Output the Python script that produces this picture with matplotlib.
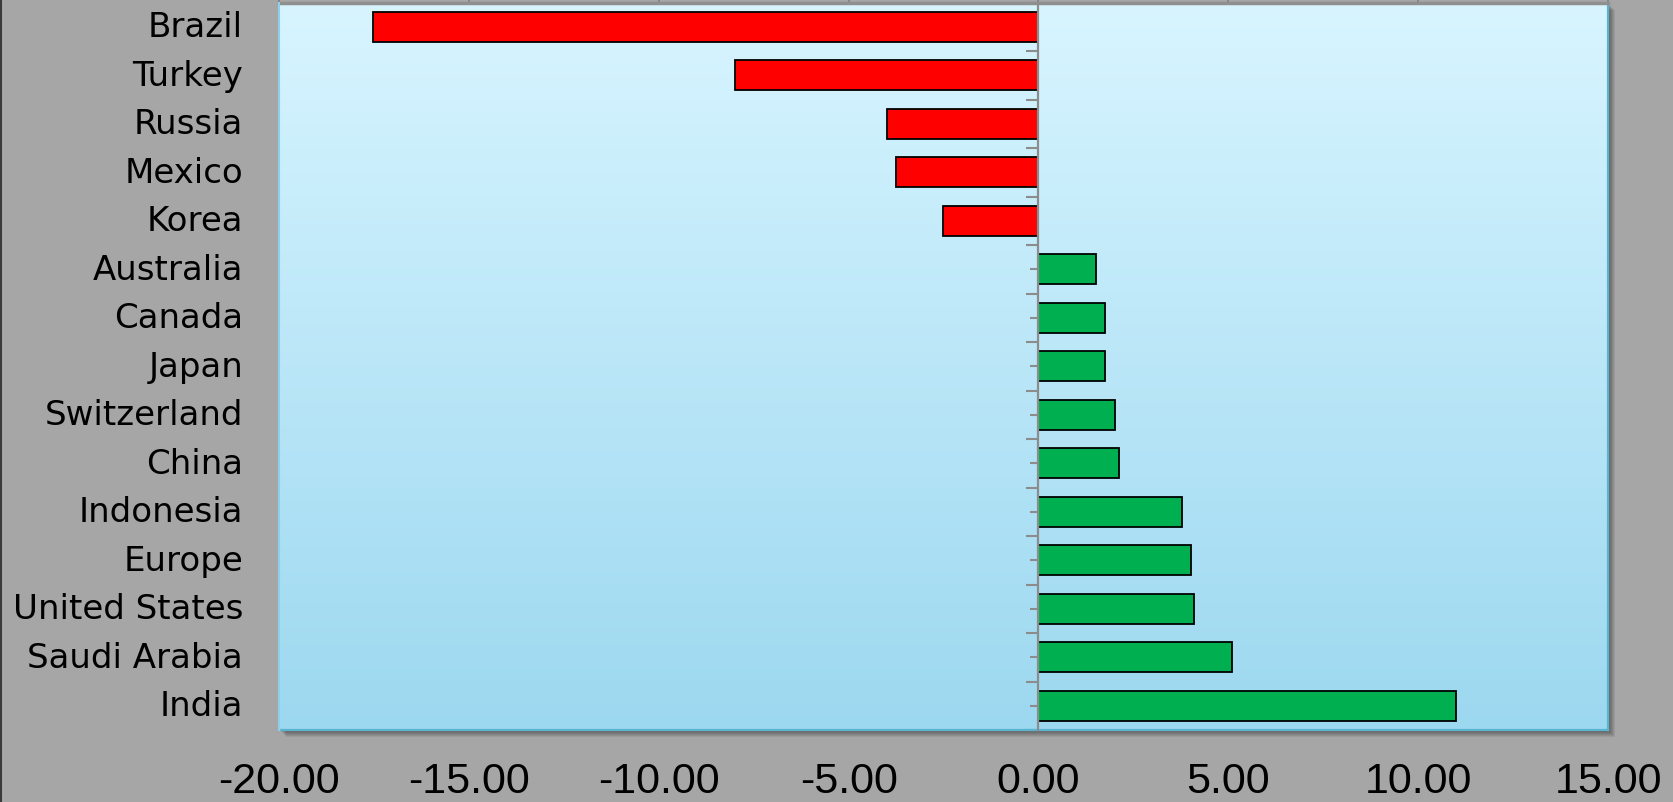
import numpy as np
import matplotlib
matplotlib.use("Agg")
import matplotlib.pyplot as plt
from matplotlib.patches import Rectangle
from matplotlib.lines import Line2D
from matplotlib.transforms import offset_copy
from matplotlib.ticker import FormatStrFormatter, FixedLocator

plt.rcParams['axes.unicode_minus'] = False

# Countries, top to bottom, and their values
countries = ['Brazil', 'Turkey', 'Russia', 'Mexico', 'Korea', 'Australia',
             'Canada', 'Japan', 'Switzerland', 'China', 'Indonesia', 'Europe',
             'United States', 'Saudi Arabia', 'India']
values = [-17.53, -8.00, -4.00, -3.76, -2.51, 1.51, 1.75, 1.75, 2.01, 2.11,
          3.77, 4.02, 4.10, 5.11, 11.01]
x_ticks = [-20, -15, -10, -5, 0, 5, 10, 15]

W, H = 1673, 803
fig = plt.figure(figsize=(W / 100, H / 100), dpi=100)
fig.patch.set_facecolor('#a6a6a6')

# plot area in pixels: left 279, right 1608, top 3.5, bottom 731
left, right, top, bottom = 279, 1608, 3.5, 731
ax = fig.add_axes([left / W, (H - bottom) / H, (right - left) / W, (bottom - top) / H])

# drop shadow to the right / bottom of the plot area
for k in range(1, 8):
    tr = offset_copy(ax.transAxes, fig=fig, x=k, y=-k, units='dots')
    fig.add_artist(Rectangle((0, 0), 1, 1, transform=tr, facecolor='black',
                             alpha=0.07, edgecolor='none', zorder=0))
ax.set_zorder(1)

# vertical gradient fill for the plot background
grad = np.linspace(0, 1, 256).reshape(-1, 1)
top_c = np.array([0.847, 0.960, 1.0])
bot_c = np.array([0.612, 0.847, 0.941])
img = top_c + (bot_c - top_c) * grad[..., None]
ax.imshow(img, extent=[0, 1, 0, 1], transform=ax.transAxes, aspect='auto',
          zorder=0, interpolation='bilinear')

y = np.arange(len(countries))
colors = ['#ff0000' if v < 0 else '#00b050' for v in values]
ax.barh(y, values, height=0.62, color=colors, edgecolor='black',
        linewidth=1.3, zorder=3)

ax.set_xlim(-20, 15)
ax.set_ylim(len(countries) - 0.5, -0.5)

# y axis drawn at zero with boundary (major) and centre (minor) ticks
ax.spines['left'].set_position(('data', 0))
ax.spines['left'].set_color('#8c8c8c')
ax.spines['left'].set_linewidth(1.6)
ax.spines['left'].set_zorder(4)
ax.yaxis.set_major_locator(FixedLocator(np.arange(-0.5, len(countries), 1.0)))
ax.yaxis.set_minor_locator(FixedLocator(y))
ax.tick_params(axis='y', which='major', direction='out', length=8.5, width=1.5,
               color='#8c8c8c', labelleft=False)
ax.tick_params(axis='y', which='minor', direction='out', length=6, width=1.5,
               color='#8c8c8c', labelleft=False)

for i, name in enumerate(countries):
    ax.text(-0.027, i, name, transform=ax.get_yaxis_transform(), ha='right',
            va='center', fontsize=24.5, family=['DejaVu Sans'], color='black')

# frame
for s in ['right', 'bottom']:
    ax.spines[s].set_color('#5bb4cf')
    ax.spines[s].set_linewidth(1.6)
ax.spines['top'].set_color('#8f8f8f')
ax.spines['top'].set_linewidth(2.5)
fig.add_artist(Line2D([left / W, left / W], [(H - bottom) / H, (H - top) / H],
                      transform=fig.transFigure, color='#8fd0e8', lw=1.5, zorder=2))

ax.set_xticks(x_ticks)
ax.xaxis.set_major_formatter(FormatStrFormatter('%.2f'))
ax.tick_params(axis='x', bottom=False, top=True, labelbottom=True, labeltop=False,
               direction='out', length=4, width=1.2, color='#7f7f7f', pad=18)
for lbl in ax.get_xticklabels():
    lbl.set_fontsize(31)
    lbl.set_family(['Liberation Sans', 'DejaVu Sans'])

# dark edge on the left of the figure
fig.add_artist(Line2D([0.0006, 0.0006], [0, 1], transform=fig.transFigure,
                      color='#3a3a3a', lw=1.5))

fig.savefig('out.png', dpi=100, facecolor=fig.get_facecolor())
